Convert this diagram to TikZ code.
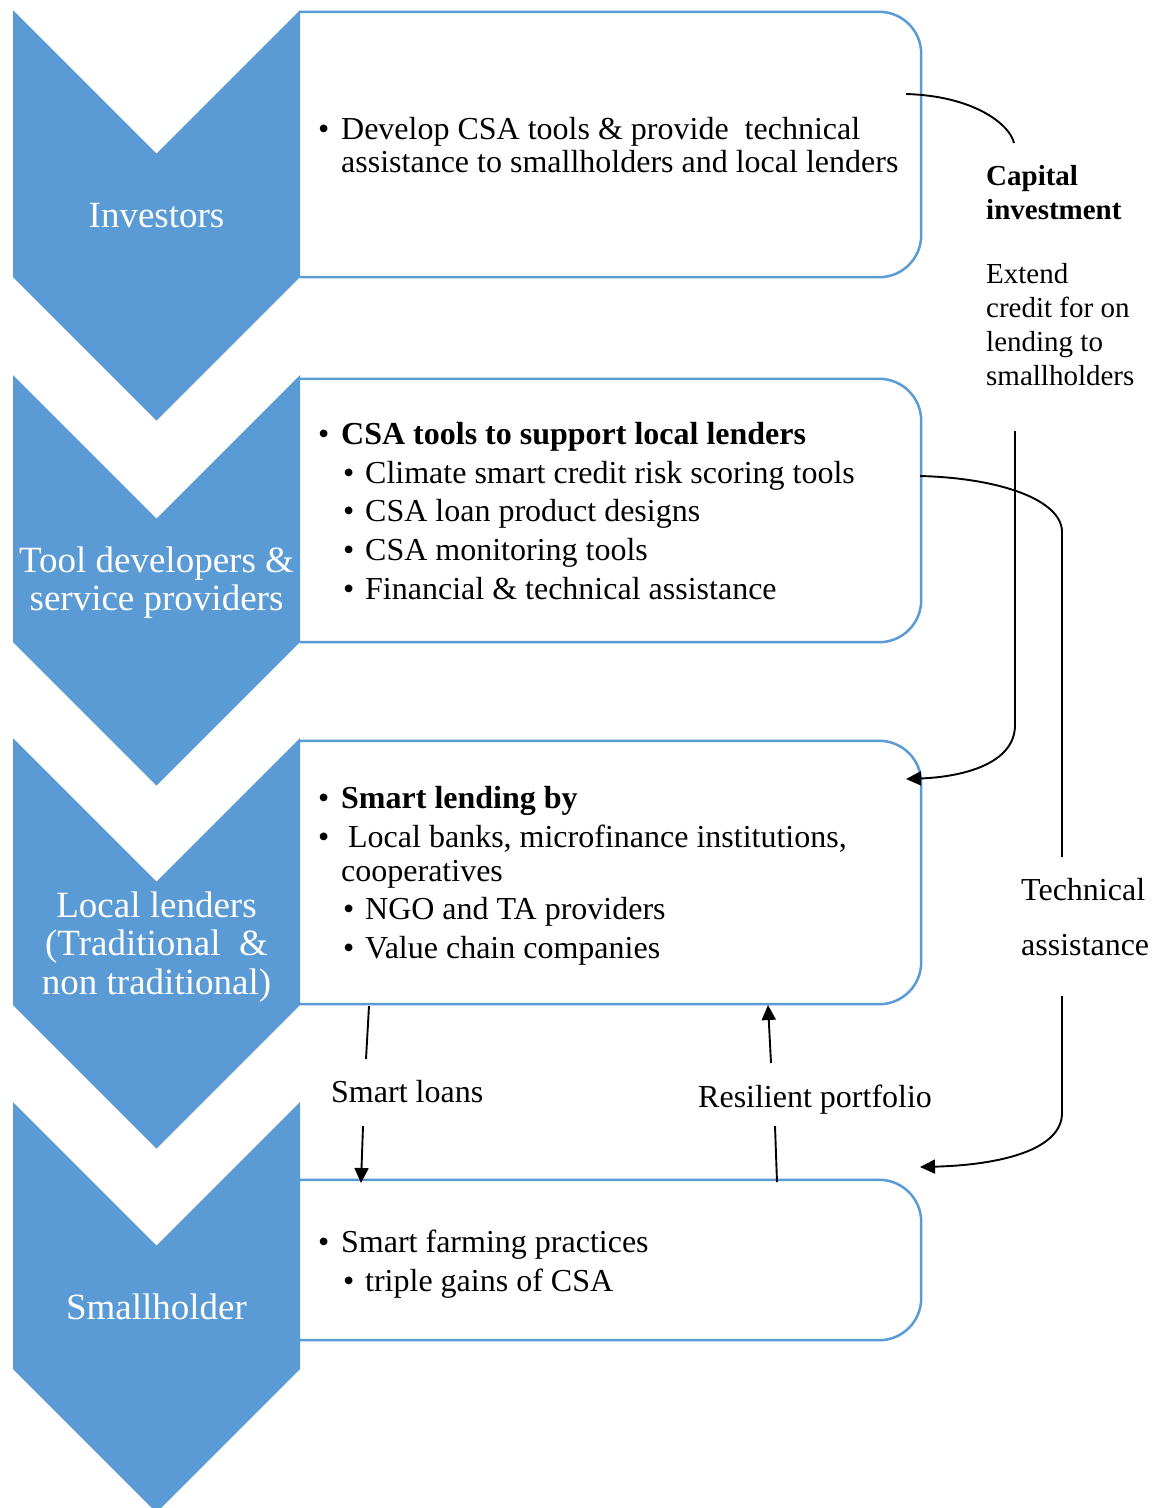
\documentclass[tikz,border=0pt]{standalone}
\usepackage{fontspec}
\setmainfont{Liberation Serif}
\usetikzlibrary{arrows.meta}
\definecolor{chev}{RGB}{91,155,213}
\newcommand{\bul}[1][23pt]{\makebox[#1][l]{•}}
\tikzset{
  chevfill/.style={fill=chev, draw=none},
  boxarea/.style={rectangle, draw=none, inner sep=0pt, minimum width=621pt},
  boxline/.style={draw=chev, line width=2.5pt, rounded corners=42pt},
  conn/.style={draw=black, line width=1.9pt},
  arr/.style={conn, -{Triangle[length=15pt,width=14pt]}},
  txt/.style={anchor=base west, inner sep=0pt, font=\fontsize{32}{33}\selectfont},
  rtxt/.style={anchor=base west, inner sep=0pt, font=\fontsize{29}{34}\selectfont},
  wtxt/.style={anchor=base, inner sep=0pt, text=white, font=\fontsize{37}{38}\selectfont},
}
\begin{document}
\begin{tikzpicture}[x=1pt,y=-1pt]
\useasboundingbox (0,0) rectangle (1165,1508);

% boxes (name areas)
\node[boxarea, minimum height=265pt] (b1) at (610.5,144.5) {};
\node[boxarea, minimum height=263pt] (b2) at (610.5,510.5) {};
\node[boxarea, minimum height=263pt] (b3) at (610.5,872.5) {};
\node[boxarea, minimum height=160pt] (b4) at (610.5,1260) {};
\foreach \b in {b1,b2,b3,b4}{
  \draw[boxline] (\b.south west) -- (\b.south east) -- (\b.north east) -- (\b.north west);
}

% chevrons
\foreach \t in {10,375,738,1102}{
  \fill[chevfill] (13,\t) -- (156.5,\t+143.5) -- (300,\t) -- (300,\t+267)
     -- (156.5,\t+410.5) -- (13,\t+267) -- cycle;
}

% chevron labels
\node[wtxt] (l1) at (156.5,227) {Investors};
\node[wtxt] (l2a) at (156.5,572) {Tool developers \&};
\node[wtxt] (l2b) at (156.5,610) {service providers};
\node[wtxt] (l3a) at (156.5,917) {Local lenders};
\node[wtxt] (l3b) at (156.5,955) {(Traditional\ \ \&};
\node[wtxt] (l3c) at (156.5,994) {non traditional)};
\node[wtxt] (l4) at (156.5,1319) {Smallholder};

% box 1 text
\node[txt] (p1a) at (318,139) {\bul Develop CSA tools \& provide\ \ technical};
\node[txt] (p1b) at (341,172) {assistance to smallholders and local lenders};

% box 2 text
\node[txt] (p2a) at (318,444) {\bul\textbf{CSA tools to support local lenders}};
\node[txt] (p2b) at (343,483) {\bul[22pt]Climate smart credit risk scoring tools};
\node[txt] (p2c) at (343,521) {\bul[22pt]CSA loan product designs};
\node[txt] (p2d) at (343,560) {\bul[22pt]CSA monitoring tools};
\node[txt] (p2e) at (343,599) {\bul[22pt]Financial \& technical assistance};

% box 3 text
\node[txt] (p3a) at (318,808) {\bul\textbf{Smart lending by}};
\node[txt] (p3b) at (318,847) {\bul[30pt]Local banks, microfinance institutions,};
\node[txt] (p3c) at (341,881) {cooperatives};
\node[txt] (p3d) at (343,919) {\bul[22pt]NGO and TA providers};
\node[txt] (p3e) at (343,958) {\bul[22pt]Value chain companies};

% box 4 text
\node[txt] (p4a) at (318,1252) {\bul Smart farming practices};
\node[txt] (p4b) at (343,1291) {\bul[22pt]triple gains of CSA};

% right labels
\node[rtxt] (r1) at (986,185) {\textbf{Capital}};
\node[rtxt] (r2) at (986,219) {\textbf{investment}};
\node[rtxt] (r3) at (986,283) {Extend};
\node[rtxt] (r4) at (986,317) {credit for on};
\node[rtxt] (r5) at (986,351) {lending to};
\node[rtxt] (r6) at (986,385) {smallholders};
\node[txt] (ta1) at (1021,900) {Technical};
\node[txt] (ta2) at (1021,955) {assistance};
\node[txt] (sl) at (331,1102) {Smart loans};
\node[txt] (rp) at (698,1107) {Resilient portfolio};

% connector coordinates
\coordinate (c1s) at (906,94);
\coordinate (c1e) at (1014,143);
\coordinate (c2s) at (1015,431);
\coordinate (c2m) at (1015,725);
\coordinate (c2e) at (906,779);
\coordinate (c3s) at (920,476);
\coordinate (c3m) at (1062,532);
\coordinate (c3e) at (1062,857);
\coordinate (c4s) at (1062,996);
\coordinate (c4m) at (1062,1113);
\coordinate (c4e) at (920,1167);
\coordinate (s1s) at (369,1006);
\coordinate (s1e) at (366,1059);
\coordinate (s2s) at (363,1126);
\coordinate (s2e) at (361,1183);
\coordinate (q1s) at (777,1182);
\coordinate (q1e) at (775,1126);
\coordinate (q2s) at (771,1063);
\coordinate (q2e) at (768,1005);

% connectors
\draw[conn] (c1s) .. controls (975,96) and (1010,125) .. (c1e);
\draw[arr] (c2s) -- (c2m) .. controls (1015,765) and (960,777) .. (c2e);
\draw[conn] (c3s) .. controls (1000,478) and (1062,500) .. (c3m) -- (c3e);
\draw[arr] (c4s) -- (c4m) .. controls (1062,1150) and (1000,1165) .. (c4e);
\draw[conn] (s1s) -- (s1e);
\draw[arr] (s2s) -- (s2e);
\draw[conn] (q1s) -- (q1e);
\draw[arr] (q2s) -- (q2e);
\end{tikzpicture}
\end{document}
